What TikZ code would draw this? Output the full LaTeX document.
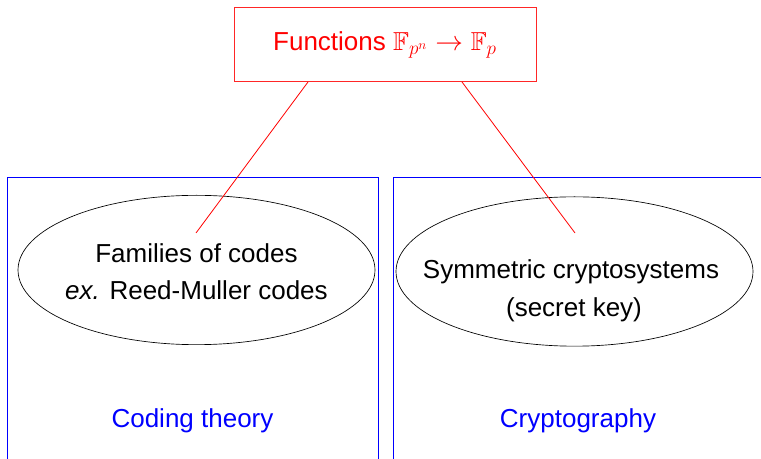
\documentclass[tikz,border=0pt]{standalone}
\usepackage{amssymb}
\usepackage{fontspec}
\setmainfont{Liberation Sans}
\usetikzlibrary{shapes.geometric}
\begin{document}
\begin{tikzpicture}[x=0.75pt,y=-0.75pt,
  lbl/.style={font=\fontsize{19.5}{23}\selectfont, inner sep=0pt, anchor=base},
  oval/.style={ellipse, draw=black, line width=0.5pt, minimum width=267.75pt, minimum height=112pt, inner sep=0pt},
  area/.style={draw=blue, line width=0.75pt},
  link/.style={draw=red, line width=0.6pt}]
\clip (0,0) rectangle (761,459);
\fill[white] (0,0) rectangle (761,459);
% top box
\node[draw=red!85, line width=0.75pt, minimum width=226.5pt, minimum height=56pt, inner sep=0pt] (top) at (385.5,44.5) {};
\node[lbl, text=red] (toptxt) at (385,50.5) {Functions $\mathbb{F}_{p^n}\to\mathbb{F}_p$};
% domain boxes
\draw[area] (7.5,470) -- (7.5,177.5) -- (378.5,177.5) -- (378.5,470);
\draw[area] (393.5,470) -- (393.5,177.5) -- (775,177.5);
% ellipses
\node[oval] (codes) at (196.5,270) {};
\node[oval] (crypto) at (574.5,271.5) {};
\node[lbl] (c1) at (196.5,262.5) {Families of codes};
\node[lbl] (c2) at (196.5,299.5) {\textit{ex.} Reed-Muller codes};
\node[lbl] (k1) at (571,279) {Symmetric cryptosystems};
\node[lbl] (k2) at (574,316.5) {(secret key)};
\node[lbl, text=blue] (ct) at (192.5,428) {Coding theory};
\node[lbl, text=blue] (cr) at (578,428) {Cryptography};
% connectors
\coordinate (la) at (308,82);
\coordinate (lb) at (196,233);
\coordinate (ra) at (462,82);
\coordinate (rb) at (575,233);
\draw[link] (la) -- (lb);
\draw[link] (ra) -- (rb);
\end{tikzpicture}
\end{document}
